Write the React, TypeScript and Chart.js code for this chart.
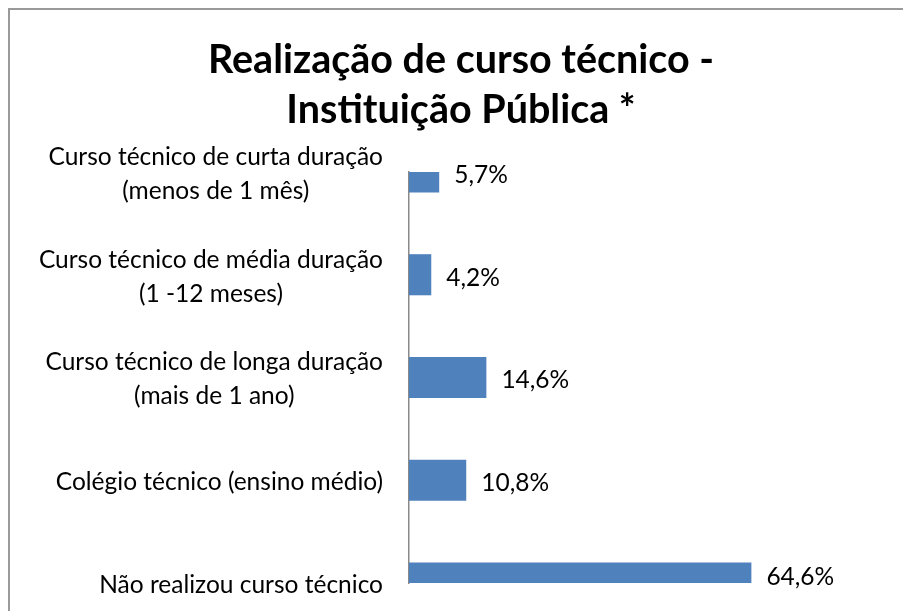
import React, { useEffect, useRef } from "react";
import { Chart, registerables } from "chart.js";

Chart.register(...registerables);

const categories: string[][] = [
  ["Curso técnico de curta duração", "(menos de 1 mês)"],
  ["Curso técnico de média duração", "(1 -12 meses)"],
  ["Curso técnico de longa duração", "(mais de 1 ano)"],
  ["Colégio técnico (ensino médio)"],
  ["Não realizou curso técnico"],
];
const values: number[] = [5.7, 4.2, 14.6, 10.8, 64.6];
const valueLabels: string[] = ["5,7%", "4,2%", "14,6%", "10,8%", "64,6%"];
const titleLines: string[] = ["Realização de curso técnico -", "Instituição Pública *"];
const xMin = 0;
const xMax = 70;

const FONT = "Lato, 'Open Sans', sans-serif";
const LABEL_SIZE = 24.5;

const categoryLabelPlugin = {
  id: "categoryLabels",
  afterDraw(chart: any) {
    const ctx = chart.ctx;
    const yScale = chart.scales.y;
    const labels = chart.data.labels as string[][];
    ctx.save();
    ctx.font = `${LABEL_SIZE}px ${FONT}`;
    ctx.fillStyle = "#000";
    ctx.textBaseline = "middle";
    ctx.textAlign = "center";
    const right = chart.chartArea.left - 26;
    const lh = 34;
    labels.forEach((lines, i) => {
      const py = yScale.getPixelForTick(i) + 2;
      const w = Math.max(...lines.map((l) => ctx.measureText(l).width));
      const cx = right - w / 2;
      lines.forEach((l, j) => {
        ctx.fillText(l, cx, py + (j - (lines.length - 1) / 2) * lh);
      });
    });
    ctx.restore();
  },
};

const valueLabelPlugin = {
  id: "valueLabels",
  afterDatasetsDraw(chart: any) {
    const ctx = chart.ctx;
    const meta = chart.getDatasetMeta(0);
    const area = chart.chartArea;
    ctx.save();
    ctx.font = `${LABEL_SIZE}px ${FONT}`;
    ctx.fillStyle = "#000";
    ctx.textBaseline = "middle";
    ctx.textAlign = "left";
    meta.data.forEach((el: any, i: number) => {
      const y = Math.min(Math.max(el.y + 3, area.top + 3), area.bottom - 6);
      ctx.fillText(valueLabels[i], el.x + 15, y);
    });
    ctx.restore();
  },
};

export default function App() {
  const canvasRef = useRef<HTMLCanvasElement | null>(null);

  useEffect(() => {
    document.documentElement.style.overflow = "hidden";
    document.body.style.overflow = "hidden";
    const canvas = canvasRef.current;
    if (!canvas) return;
    const chart = new Chart(canvas, {
      type: "bar",
      data: {
        labels: categories,
        datasets: [
          {
            data: values,
            backgroundColor: "#4F81BD",
            borderWidth: 0,
            categoryPercentage: 1,
            barPercentage: 0.4,
            clip: 0,
          },
        ],
      },
      options: {
        indexAxis: "y",
        responsive: false,
        animation: false,
        layout: { padding: { left: 0, right: 0, top: 0, bottom: 47 } },
        plugins: {
          legend: { display: false },
          tooltip: { enabled: false },
          title: {
            display: true,
            text: titleLines,
            color: "#000",
            font: { family: FONT, size: 39.5, weight: "bold", lineHeight: "50px" },
            padding: { top: 25, bottom: 37 },
          },
        },
        scales: {
          x: {
            type: "linear",
            display: false,
            min: xMin,
            max: xMax,
          },
          y: {
            type: "category",
            offset: false,
            grid: { display: false },
            border: { display: true, color: "#8a8a8a", width: 1.5 },
            ticks: { display: false },
            afterFit(scale: any) {
              scale.width = 399;
            },
          },
          yRightSpace: {
            type: "category",
            position: "right",
            offset: false,
            grid: { display: false },
            border: { display: false },
            ticks: { display: false },
            afterFit(scale: any) {
              scale.width = 132;
            },
          },
        },
      },
      plugins: [categoryLabelPlugin, valueLabelPlugin],
    });
    return () => chart.destroy();
  }, []);

  return (
    <div
      style={{
        position: "fixed",
        left: 8,
        top: 8,
        width: 902,
        height: 620,
        borderLeft: "2px solid #9a9a9a",
        borderTop: "2px solid #9a9a9a",
        background: "#fff",
      }}
    >
      <canvas ref={canvasRef} width={902} height={620} style={{ display: "block" }} />
    </div>
  );
}
